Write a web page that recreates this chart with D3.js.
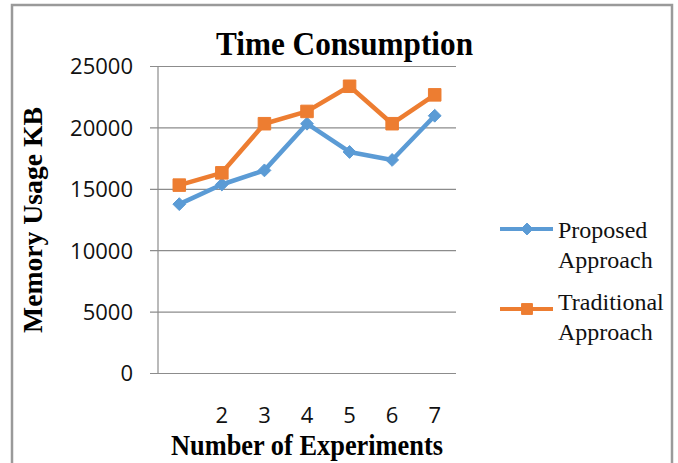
<!DOCTYPE html>
<html>
<head>
<meta charset="utf-8">
<script src="https://cdn.jsdelivr.net/npm/d3@7"></script>
<style>
  html, body { margin: 0; padding: 0; background: #fff; }
  svg { display: block; }
</style>
</head>
<body>
<div id="chart"></div>
<script>
const categories = ["1", "2", "3", "4", "5", "6", "7"];
const tickLabels = ["", "2", "3", "4", "5", "6", "7"];
const proposed = [13750, 15350, 16500, 20300, 18000, 17350, 20950];
const traditional = [15300, 16300, 20300, 21300, 23350, 20300, 22650];
const yTicks = [0, 5000, 10000, 15000, 20000, 25000];
const seriesNames = ["Proposed Approach", "Traditional Approach"];

(function () {
const W = 678, H = 463;
const svg = d3.select("#chart").append("svg").attr("width", W).attr("height", H);

// outer frame
svg.append("rect").attr("x", 12).attr("y", 5).attr("width", 660).attr("height", 470)
  .attr("fill", "#fff").attr("stroke", "#9a9a9a").attr("stroke-width", 2.5);

const pL = 158, pR = 456, pT = 66, pB = 373;
const x = d3.scaleBand().domain(categories).range([pL, pR]).padding(0);
const y = d3.scaleLinear().domain([0, 25000]).range([pB, pT]);

// gridlines + y axis
const yAxis = d3.axisLeft(y).tickValues(yTicks).tickSize(-(pR - pL)).tickPadding(0).tickFormat(d3.format("d"));
const gy = svg.append("g").attr("transform", `translate(${pL},0)`).call(yAxis);
gy.select(".domain").remove();
gy.selectAll(".tick line").attr("stroke", "#8c8c8c").attr("stroke-width", 1.2).attr("x1", -8);
gy.selectAll(".tick text").attr("x", -25).attr("dy", "0.36em")
  .style("font-family", "'Open Sans', sans-serif").style("font-size", "22px").attr("fill", "#111");

// vertical axis line
svg.append("line").attr("x1", pL).attr("x2", pL).attr("y1", pT).attr("y2", pB)
  .attr("stroke", "#8c8c8c").attr("stroke-width", 1.2);

// x axis labels
const xAxis = d3.axisBottom(x).tickSize(0).tickFormat((d, i) => tickLabels[i]);
const gx = svg.append("g").attr("transform", `translate(0,${pB})`).call(xAxis);
gx.select(".domain").remove();
gx.selectAll(".tick text").attr("y", 42).attr("dy", "0.36em")
  .style("font-family", "'Open Sans', sans-serif").style("font-size", "22px").attr("fill", "#111");

// series
const colors = ["#5B9BD5", "#ED7D31"];
const line = d3.line().x((d, i) => x(categories[i]) + x.bandwidth() / 2).y(d => y(d));

function markerPath(marker, big) {
  return marker === "diamond"
    ? d3.symbol().type(d3.symbolDiamond2).size(big ? 105 : 90)
    : d3.symbol().type(d3.symbolSquare2).size(big ? 200 : 150);
}
function drawSeries(vals, color, marker) {
  svg.append("path").datum(vals).attr("d", line).attr("fill", "none")
    .attr("stroke", color).attr("stroke-width", 4.5).attr("stroke-linejoin", "round");
  svg.append("g").selectAll("path").data(vals).join("path")
    .attr("transform", (d, i) => `translate(${x(categories[i]) + x.bandwidth() / 2},${y(d)})`)
    .attr("d", markerPath(marker, true)).attr("fill", color).attr("stroke", color).attr("stroke-width", 1);
}
drawSeries(proposed, colors[0], "diamond");
drawSeries(traditional, colors[1], "square");

const serif = "'Liberation Serif', 'Times New Roman', serif";
// title
svg.append("text").attr("x", 344.5).attr("y", 55).attr("text-anchor", "middle")
  .attr("textLength", 257).attr("lengthAdjust", "spacingAndGlyphs")
  .style("font-family", serif).style("font-weight", "bold").style("font-size", "33px")
  .text("Time Consumption");

// x axis title
svg.append("text").attr("x", 307).attr("y", 455).attr("text-anchor", "middle")
  .attr("textLength", 272).attr("lengthAdjust", "spacingAndGlyphs")
  .style("font-family", serif).style("font-weight", "bold").style("font-size", "29px")
  .text("Number of Experiments");

// y axis title
svg.append("text").attr("transform", "translate(42,220) rotate(-90)").attr("text-anchor", "middle")
  .attr("textLength", 226).attr("lengthAdjust", "spacingAndGlyphs")
  .style("font-family", serif).style("font-weight", "bold").style("font-size", "28px")
  .text("Memory Usage KB");

// legend
const legendItems = [
  { lines: ["Proposed", "Approach"], color: colors[0], marker: "diamond", ly: 229, ty: 238 },
  { lines: ["Traditional", "Approach"], color: colors[1], marker: "square", ly: 309, ty: 310 }
];
legendItems.forEach((it) => {
  const g = svg.append("g");
  g.append("line").attr("x1", 500).attr("x2", 553).attr("y1", it.ly).attr("y2", it.ly)
    .attr("stroke", it.color).attr("stroke-width", 4);
  g.append("path").attr("transform", `translate(527,${it.ly})`).attr("d", markerPath(it.marker, false))
    .attr("fill", it.color).attr("stroke", it.color).attr("stroke-width", 1);
  it.lines.forEach((t, j) => {
    g.append("text").attr("x", 558).attr("y", it.ty + j * 30)
      .style("font-family", serif).style("font-size", "24px").attr("fill", "#111")
      .text(t);
  });
});
})();
</script>
</body>
</html>
